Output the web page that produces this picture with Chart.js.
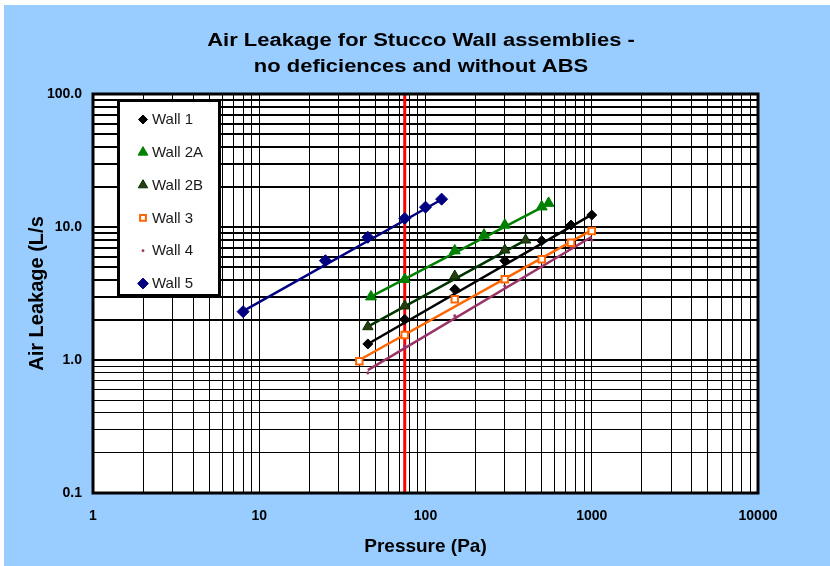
<!DOCTYPE html>
<html><head><meta charset="utf-8">
<script src="https://cdn.jsdelivr.net/npm/chart.js@4.4.0/dist/chart.umd.min.js"></script>
<style>html,body{margin:0;padding:0;background:#fff;}#wrap{width:830px;height:566px;position:relative}</style>
</head><body><div id="wrap"><canvas id="c" width="830" height="566"></canvas></div>
<script>
// ---- data ----
const titleLines = ['Air Leakage for Stucco Wall assemblies -', 'no deficiences and without ABS'];
const seriesNames = ['Wall 1', 'Wall 2A', 'Wall 2B', 'Wall 3', 'Wall 4', 'Wall 5'];
const pressure1 = [45, 75, 150, 300, 500, 750, 1000];
const wall1 = [1.32, 2.02, 3.40, 5.58, 7.89, 10.35, 12.3];
const pressure2A = [47, 75, 150, 225, 300, 500, 550];
const wall2A = [2.99, 4.04, 6.63, 8.71, 10.35, 14.2, 15.1];
const pressure2B = [45, 75, 150, 300, 400];
const wall2B = [1.78, 2.55, 4.28, 6.71, 7.98];
const pressure3 = [40, 75, 150, 300, 500, 750, 1000];
const wall3 = [0.98, 1.54, 2.86, 4.04, 5.71, 7.62, 9.33];
const pressure4 = [45, 75, 150, 300, 500, 750, 1000];
const wall4 = [0.80, 1.28, 2.15, 3.6, 5.0, 6.9, 7.96];
const pressure5 = [8, 25, 45, 75, 100, 125];
const wall5 = [2.31, 5.58, 8.37, 11.6, 14.1, 16.2];

// power-law trend lines (end points)
const trend1X = [45, 1000],  trend1Y = [1.32, 12.4];
const trend2AX = [47, 550],  trend2AY = [3.0, 14.9];
const trend2BX = [45, 400],  trend2BY = [1.78, 7.98];
const trend3X = [40, 1000],  trend3Y = [1.0, 9.48];
const trend4X = [45, 1000],  trend4Y = [0.84, 8.45];
const trend5X = [8, 125],    trend5Y = [2.33, 16.1];

// reference pressure line
const refPressure = [75, 75];
const refLeakage = [0.1, 100];

// ticks
const xTickValues = [];
for (const d of [1, 10, 100, 1000]) for (let k = 1; k < 10; k++) xTickValues.push(d * k);
xTickValues.push(10000);
const xTickLabels = {1: '1', 10: '10', 100: '100', 1000: '1000', 10000: '10000'};
const yTickValues = [];
for (const d of [0.1, 1, 10]) for (let k = 1; k < 10; k++) yTickValues.push(+(d * k).toFixed(2));
yTickValues.push(100);
const yTickLabels = {0.1: '0.1', 1: '1.0', 10: '10.0', 100: '100.0'};

const pts = (xs, ys) => xs.map((x, i) => ({x: x, y: ys[i]}));
const FONT = "'Liberation Sans', Arial, sans-serif";

const styles = [
  {c: '#000000', f: '#000000', ps: 'rectRot', r: 5, bw: 1},
  {c: '#008000', f: '#008000', ps: 'triangle', r: 6.3, bw: 1},
  {c: '#003300', f: '#2a3d12', ps: 'triangle', r: 6, bw: 1},
  {c: '#FF6600', f: '#FFFFFF', ps: 'rect', r: 4.6, bw: 2},
  {c: '#993366', f: '#993366', ps: 'circle', r: 1.3, bw: 0.5},
  {c: '#000080', f: '#000080', ps: 'rectRot', r: 6, bw: 1}
];
const markerData = [pts(pressure1, wall1), pts(pressure2A, wall2A), pts(pressure2B, wall2B), pts(pressure3, wall3), pts(pressure4, wall4), pts(pressure5, wall5)];
const trendData = [pts(trend1X, trend1Y), pts(trend2AX, trend2AY), pts(trend2BX, trend2BY), pts(trend3X, trend3Y), pts(trend4X, trend4Y), pts(trend5X, trend5Y)];

const datasets = [];
seriesNames.forEach((n, i) => {
  const s = styles[i];
  datasets.push({label: n, inLegend: true, data: markerData[i], showLine: false,
    pointStyle: s.ps, pointRadius: s.r, pointBackgroundColor: s.f, pointBorderColor: s.c,
    pointBorderWidth: s.bw, borderColor: s.c, backgroundColor: s.f, order: 0, legendStyle: s});
});
seriesNames.forEach((n, i) => {
  datasets.push({label: n + ' trend', data: trendData[i], showLine: true, pointRadius: 0,
    borderColor: styles[i].c, borderWidth: 2.5, order: 2});
});
datasets.push({label: 'ref', data: pts(refPressure, refLeakage), showLine: true, pointRadius: 0,
  borderColor: '#FF0000', borderWidth: 3, order: 3});

const framePlugin = {
  id: 'frame',
  beforeDraw(chart) {
    const ctx = chart.ctx, a = chart.chartArea;
    ctx.save();
    ctx.fillStyle = '#FFFFFF'; ctx.fillRect(0, 0, chart.width, chart.height);
    ctx.fillStyle = '#99CCFF'; ctx.fillRect(4, 5, chart.width - 4, chart.height - 5);
    ctx.fillStyle = '#FFFFFF'; ctx.fillRect(a.left, a.top, a.right - a.left, a.bottom - a.top);
    ctx.restore();
  },
  afterDraw(chart) {
    const ctx = chart.ctx, a = chart.chartArea;
    ctx.save();
    // title (horizontally widened like the original)
    ctx.fillStyle = '#000';
    ctx.font = 'bold 18px ' + FONT;
    ctx.textAlign = 'center'; ctx.textBaseline = 'middle';
    titleLines.forEach((t, i) => {
      ctx.save();
      ctx.translate(421, 41 + i * 25.8);
      ctx.scale(1.22, 1);
      ctx.fillText(t, 0, 0);
      ctx.restore();
    });
    ctx.strokeStyle = '#000'; ctx.lineWidth = 3;
    ctx.strokeRect(a.left, a.top, a.right - a.left, a.bottom - a.top);
    // legend box
    const bx = 118.5, by = 100.5, bw = 101, bh = 195;
    ctx.fillStyle = '#FFFFFF'; ctx.fillRect(bx, by, bw, bh);
    ctx.lineWidth = 3; ctx.strokeRect(bx, by, bw, bh);
    const items = chart.data.datasets.filter(d => d.inLegend);
    items.forEach((d, i) => {
      const y = 119.5 + i * 32.8;
      const s = d.legendStyle;
      ctx.fillStyle = s.f; ctx.strokeStyle = s.c; ctx.lineWidth = s.bw;
      Chart.helpers.drawPoint(ctx, {pointStyle: s.ps, radius: s.r * 0.9, borderWidth: s.bw, rotation: 0}, 143, y);
      ctx.fillStyle = '#1a1a1a';
      ctx.font = '15px ' + FONT;
      ctx.textBaseline = 'middle'; ctx.textAlign = 'left';
      ctx.fillText(d.label, 152, y + 0.5);
    });
    ctx.restore();
  }
};

new Chart(document.getElementById('c'), {
  type: 'scatter',
  data: {datasets: datasets},
  options: {
    responsive: false, animation: false,
    layout: {padding: {top: 94, right: 72, bottom: 0, left: 0}},
    plugins: {
      legend: {display: false}, tooltip: {enabled: false}, title: {display: false}
    },
    scales: {
      x: {
        type: 'logarithmic', position: 'bottom', min: 1, max: 10000,
        afterBuildTicks: s => { s.ticks = xTickValues.map(v => ({value: v})); },
        afterFit: s => { s.height = 73; },
        ticks: {autoSkip: false, maxRotation: 0, minRotation: 0, padding: 15, color: '#000',
          font: {family: FONT, size: 14, weight: 'bold'},
          callback: v => xTickLabels[v] || ''},
        grid: {color: '#000', lineWidth: 1, drawTicks: false, tickLength: 0},
        border: {display: false},
        title: {display: true, text: 'Pressure (Pa)', color: '#000',
          font: {family: FONT, size: 19, weight: 'bold'}, padding: {top: 0, bottom: 8}}
      },
      y: {
        type: 'logarithmic', position: 'left', min: 0.1, max: 100,
        afterBuildTicks: s => { s.ticks = yTickValues.map(v => ({value: v})); },
        afterFit: s => { s.width = 93; },
        ticks: {autoSkip: false, padding: 11, color: '#000',
          font: {family: FONT, size: 14, weight: 'bold'},
          callback: v => yTickLabels[v] || ''},
        grid: {color: '#000', lineWidth: c => (c.tick && c.tick.value >= 1 ? 2 : 1), drawTicks: false, tickLength: 0},
        border: {display: false},
        title: {display: true, text: 'Air Leakage (L/s', color: '#000',
          font: {family: FONT, size: 20, weight: 'bold'}, padding: {top: 25, bottom: 0}}
      }
    }
  },
  plugins: [framePlugin]
});
</script></body></html>
